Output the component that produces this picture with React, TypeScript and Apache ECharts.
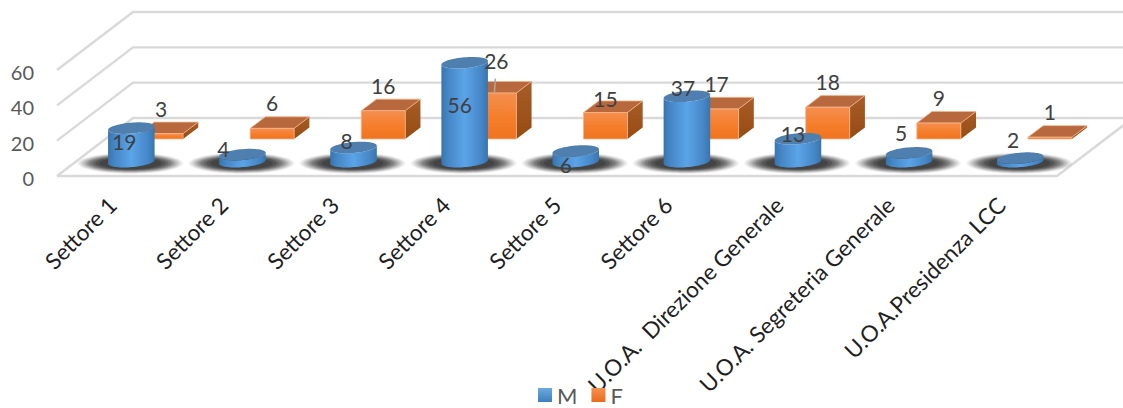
import React, { useEffect, useRef } from "react";
import * as echarts from "echarts";

const categories = [
  "Settore 1",
  "Settore 2",
  "Settore 3",
  "Settore 4",
  "Settore 5",
  "Settore 6",
  "U.O.A.  Direzione Generale",
  "U.O.A. Segreteria Generale",
  "U.O.A.Presidenza LCC",
];
const seriesM = [19, 4, 8, 56, 6, 37, 13, 5, 2];
const seriesF = [3, 6, 16, 26, 15, 17, 18, 9, 1];
const valueTicks = [0, 20, 40, 60];

// layout of the oblique projection: pixels a point moves per unit of depth
const DEPTH_X = 76;
const DEPTH_Y = 58;
const HALF_W = 22;
const M_DEPTH = 0.247;
const F_FRONT = 0.638;
const F_BACK = 0.838;
const FONT = "Lato, 'Open Sans', sans-serif";

// placement of the value labels, relative to the mark
const mLabelNudge = [
  [-7, 13], [-19, -6], [-7, -7], [-5, 42], [-10, 13], [-4, -9], [-5, -5], [-8, -20], [-7, -19],
];
const fLabelNudge = [
  [0, 0], [0, 0], [0, 0], [2, -7], [0, 12], [0, 0], [0, 0], [0, 0], [0, 0],
];
// soft floor shadow: stacked translucent ellipses [rx, ry, alpha]
const shadowLayers = [
  [53, 10.5, 0.06], [51, 10, 0.08], [49, 9.5, 0.1], [47, 9, 0.12], [45, 8.5, 0.14],
  [43, 8, 0.16], [41, 7.5, 0.2], [38, 7, 0.25], [35, 6.5, 0.3], [31, 6, 0.35],
];

const rows = (vals: number[]) => vals.map((v, i) => [i, v]);
const lin = (x2: number, y2: number, stops: [number, string][]) =>
  new echarts.graphic.LinearGradient(0, 0, x2, y2, stops.map(([offset, color]) => ({ offset, color })));

const project = (x: number, y: number, d: number): [number, number] => [x + DEPTH_X * d, y - DEPTH_Y * d];

function ellipsePts(x: number, y: number, d0: number) {
  const pts: [number, number][] = [];
  for (let k = 0; k < 72; k++) {
    const t = (k / 72) * Math.PI * 2;
    pts.push(project(x + HALF_W * Math.cos(t), y, d0 + 0.1 * Math.sin(t)));
  }
  return pts;
}

function frontArc(pts: [number, number][]) {
  let lo = 0;
  let hi = 0;
  pts.forEach((p, i) => {
    if (p[0] < pts[lo][0]) lo = i;
    if (p[0] > pts[hi][0]) hi = i;
  });
  const arc: [number, number][] = [];
  const n = pts.length;
  // walk from the left extreme to the right extreme along the lower side
  const sample = pts[(lo + Math.floor(((hi - lo + n) % n) / 2)) % n];
  const mean = (pts[lo][1] + pts[hi][1]) / 2;
  const step = sample[1] > mean ? 1 : -1;
  for (let i = lo; ; i = (i + step + n) % n) {
    arc.push(pts[i]);
    if (i === hi) break;
  }
  return arc;
}

const renderGrid = (params: any, api: any) => {
  const v = api.value(1);
  const y = api.coord([0, v])[1];
  const cs = params.coordSys;
  const left = cs.x;
  const right = cs.x + cs.width;
  const style = { stroke: "#d9d9d9", lineWidth: 2.4, fill: "none" };
  const children: any[] = [
    {
      type: "polyline",
      shape: { points: [[left, y], project(left, y, 1), project(right, y, 1)] },
      style,
    },
  ];
  if (v === 0) {
    children.push({
      type: "polyline",
      shape: { points: [[left, y], [right, y], project(right, y, 1)] },
      style,
    });
  }
  return { type: "group", children };
};

const renderShadow = (params: any, api: any) => {
  const x = api.coord([api.value(0), 0]);
  const [cx, cy] = project(x[0], x[1], M_DEPTH);
  return {
    type: "group",
    children: shadowLayers.map(([rx, ry, alpha]) => ({
      type: "ellipse",
      shape: { cx: cx - 1, cy: cy + 1.5, rx, ry },
      style: { fill: `rgba(40,40,40,${alpha})` },
    })),
  };
};

const renderCylinder = (params: any, api: any) => {
  const v = api.value(1);
  const base = api.coord([api.value(0), 0]);
  const top = api.coord([api.value(0), v]);
  const bottomPts = ellipsePts(base[0], base[1], M_DEPTH);
  const topPts = ellipsePts(top[0], top[1], M_DEPTH);
  const body = [...frontArc(bottomPts), ...frontArc(topPts).reverse()];
  return {
    type: "group",
    children: [
      {
        type: "polygon",
        shape: { points: body },
        style: {
          fill: lin(1, 0, [
            [0, "#3a74ad"],
            [0.14, "#4586c6"],
            [0.5, "#5ba4e8"],
            [0.86, "#4586c6"],
            [1, "#3a74ad"],
          ]),
        },
      },
      { type: "polygon", shape: { points: topPts }, style: { fill: "#4f7fae" } },
    ],
  };
};

const renderBox = (params: any, api: any) => {
  const v = api.value(1);
  const base = api.coord([api.value(0), 0]);
  const top = api.coord([api.value(0), v]);
  const l = base[0] - HALF_W;
  const r = base[0] + HALF_W;
  const edge = { stroke: "#f5b48a", lineWidth: 0.8 };
  return {
    type: "group",
    children: [
      {
        type: "polygon",
        shape: {
          points: [project(r, base[1], F_FRONT), project(r, base[1], F_BACK), project(r, top[1], F_BACK), project(r, top[1], F_FRONT)],
        },
        style: { fill: lin(0, 1, [[0, "#a85c28"], [1, "#954c12"]]) },
      },
      {
        type: "polygon",
        shape: {
          points: [project(l, top[1], F_FRONT), project(r, top[1], F_FRONT), project(r, top[1], F_BACK), project(l, top[1], F_BACK)],
        },
        style: { fill: "#b8683d", ...edge },
      },
      {
        type: "polygon",
        shape: {
          points: [project(l, top[1], F_FRONT), project(r, top[1], F_FRONT), project(r, base[1], F_FRONT), project(l, base[1], F_FRONT)],
        },
        style: { fill: lin(0, 1, [[0, "#f58e4e"], [0.6, "#f57c28"], [1, "#ee7420"]]), ...edge },
      },
    ],
  };
};

const labelText = (x: number, y: number, text: string) => ({
  type: "text",
  x,
  y,
  style: {
    text,
    fill: "#404040",
    font: `21px ${FONT}`,
    textAlign: "center",
    textVerticalAlign: "middle",
  },
});

const renderMLabel = (params: any, api: any) => {
  const i = api.value(0);
  const v = api.value(1);
  const p = api.coord([i, v]);
  const [x, y] = project(p[0], p[1], M_DEPTH);
  const n = mLabelNudge[i];
  return labelText(x + n[0], y + n[1], String(v));
};

const renderFLabel = (params: any, api: any) => {
  const i = api.value(0);
  const v = api.value(1);
  const p = api.coord([i, v]);
  const front = project(p[0], p[1], F_FRONT);
  const back = project(p[0], p[1], F_BACK);
  const n = fLabelNudge[i];
  const x = front[0] + n[0];
  const y = back[1] - 14 + n[1];
  const text = labelText(x, y, String(v));
  if (n[1] >= -1) return text;
  // a moved label keeps a leader line down to its box
  return {
    type: "group",
    children: [
      {
        type: "line",
        shape: { x1: x - 1, y1: y + 18, x2: x - 2, y2: front[1] },
        style: { stroke: "#a6a6a6", lineWidth: 1.5 },
      },
      text,
    ],
  };
};

export default function App() {
  const ref = useRef<HTMLDivElement>(null);
  useEffect(() => {
    const chart = echarts.init(ref.current!, undefined, { renderer: "svg" });
    chart.setOption({
      animation: false,
      backgroundColor: "#ffffff",
      grid: { left: 57, top: 70, width: 1000, height: 106 },
      legend: {
        left: 533,
        top: 379,
        itemWidth: 14,
        itemHeight: 14,
        itemGap: 14,
        icon: "rect",
        textStyle: { color: "#595959", fontSize: 22, lineHeight: 22, height: 22, fontFamily: FONT },
        data: [
          { name: "M", itemStyle: { color: lin(0, 1, [[0, "#6fa8dc"], [1, "#3c80c0"]]) } },
          { name: "F", itemStyle: { color: lin(0, 1, [[0, "#f58f50"], [1, "#ea6c1a"]]) } },
        ],
      },
      xAxis: {
        type: "category",
        data: categories,
        axisLine: { show: false },
        axisTick: { show: false },
        splitLine: { show: false },
        axisLabel: {
          interval: 0,
          rotate: 45,
          margin: 25,
          color: "#1f1f1f",
          fontSize: 22.5,
          fontFamily: FONT,
        },
      },
      yAxis: {
        type: "value",
        min: 0,
        max: 60,
        interval: 20,
        axisLine: { show: false },
        axisTick: { show: false },
        splitLine: { show: false },
        axisLabel: { margin: 23, color: "#595959", fontSize: 20, fontFamily: FONT, verticalAlign: "top", lineHeight: 4 },
      },
      series: [
        { type: "custom", silent: true, data: valueTicks.map((v) => [0, v]), encode: { x: 0, y: 1 }, renderItem: renderGrid },
        { type: "custom", silent: true, data: rows(seriesM), encode: { x: 0, y: 1 }, renderItem: renderShadow },
        { type: "custom", name: "F", silent: true, data: rows(seriesF), encode: { x: 0, y: 1 }, renderItem: renderBox, itemStyle: { color: "#f57c28" } },
        { type: "custom", name: "M", silent: true, data: rows(seriesM), encode: { x: 0, y: 1 }, renderItem: renderCylinder, itemStyle: { color: "#5ba4e8" } },
        { type: "custom", silent: true, data: rows(seriesF), encode: { x: 0, y: 1 }, renderItem: renderFLabel },
        { type: "custom", silent: true, data: rows(seriesM), encode: { x: 0, y: 1 }, renderItem: renderMLabel },
      ],
    });
    return () => chart.dispose();
  }, []);
  return (
    <div
      ref={ref}
      style={{ position: "fixed", left: 0, top: 0, width: 1123, height: 408 }}
    />
  );
}
